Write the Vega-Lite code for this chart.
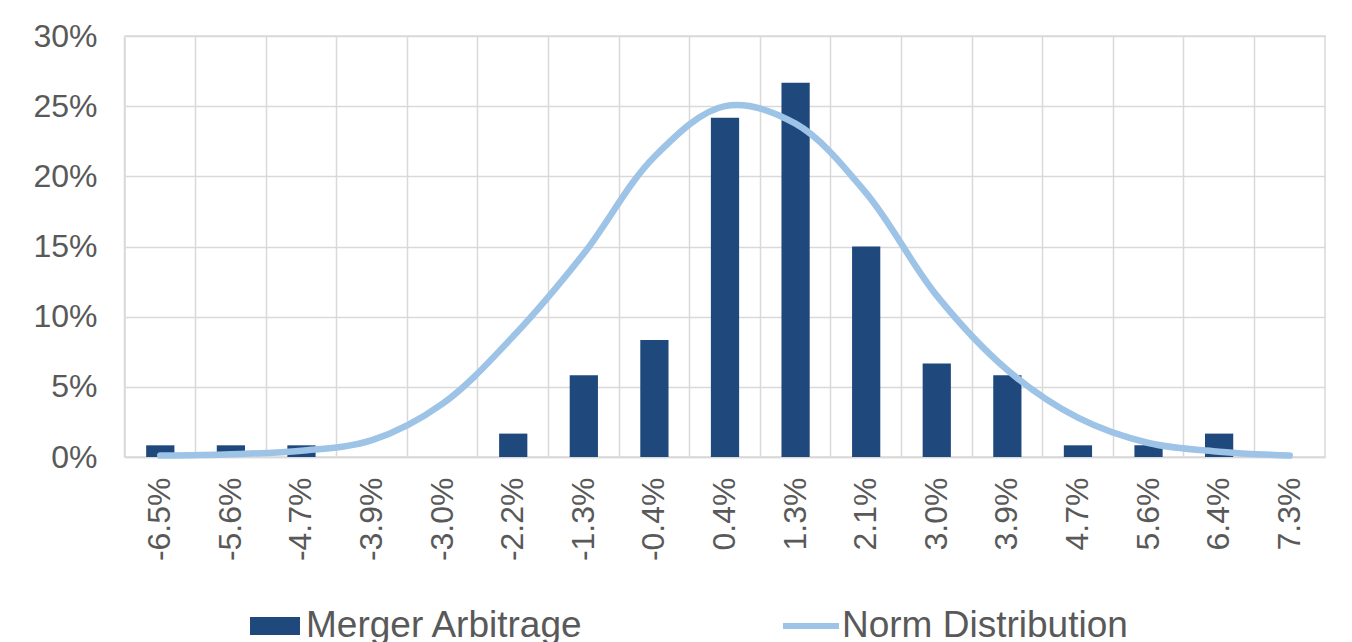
{
  "$schema": "https://vega.github.io/schema/vega-lite/v6.json",
  "autosize": {"type": "none"},
  "padding": {"left": 125, "top": 36, "right": 27, "bottom": 185},
  "width": 1200,
  "height": 421,
  "background": "white",
  "config": {
    "font": "Liberation Sans",
    "view": {"stroke": "#d9d9d9", "strokeWidth": 1.5},
    "axis": {"labelFont": "Liberation Sans", "labelColor": "#595959", "labelFontSize": 32, "gridColor": "#d9d9d9", "gridWidth": 1.5, "ticks": false, "title": null}
  },
  "data": {
    "values": [
      {"bin": "-6.5%", "ma": 0.00833, "norm": 0.0010},
      {"bin": "-5.6%", "ma": 0.00833, "norm": 0.0020},
      {"bin": "-4.7%", "ma": 0.00833, "norm": 0.0045},
      {"bin": "-3.9%", "ma": 0.0, "norm": 0.0120},
      {"bin": "-3.0%", "ma": 0.0, "norm": 0.0380},
      {"bin": "-2.2%", "ma": 0.01667, "norm": 0.0860},
      {"bin": "-1.3%", "ma": 0.05833, "norm": 0.1450},
      {"bin": "-0.4%", "ma": 0.08333, "norm": 0.2140},
      {"bin": "0.4%", "ma": 0.24167, "norm": 0.2500},
      {"bin": "1.3%", "ma": 0.26667, "norm": 0.2375},
      {"bin": "2.1%", "ma": 0.15, "norm": 0.1880},
      {"bin": "3.0%", "ma": 0.06667, "norm": 0.1150},
      {"bin": "3.9%", "ma": 0.05833, "norm": 0.0620},
      {"bin": "4.7%", "ma": 0.00833, "norm": 0.0280},
      {"bin": "5.6%", "ma": 0.00833, "norm": 0.0100},
      {"bin": "6.4%", "ma": 0.01667, "norm": 0.0038},
      {"bin": "7.3%", "ma": 0.0, "norm": 0.0010}
    ]
  },
  "encoding": {
    "x": {
      "field": "bin", "type": "nominal", "sort": null,
      "scale": {"paddingInner": 0.6, "paddingOuter": 0.3},
      "axis": {"labelAngle": -90, "labelPadding": 20, "grid": true, "bandPosition": -0.75, "domainColor": "#d9d9d9", "domainWidth": 1.5}
    }
  },
  "layer": [
    {
      "mark": {"type": "bar"},
      "encoding": {
        "y": {"field": "ma", "type": "quantitative", "scale": {"domain": [0, 0.3]},
              "axis": {"format": ".0%", "values": [0, 0.05, 0.1, 0.15, 0.2, 0.25, 0.3], "domain": false, "labelPadding": 28}},
        "color": {"datum": "Merger Arbitrage", "type": "nominal",
          "scale": {"domain": ["Merger Arbitrage", "Norm Distribution"], "range": ["#1f497d", "#9dc3e6"]},
          "legend": {
            "orient": "none", "legendX": 125, "legendY": 565, "direction": "horizontal", "title": null,
            "labelFont": "Liberation Sans", "labelFontSize": 37, "labelColor": "#595959", "labelOffset": 6, "labelLimit": 600,
            "symbolSize": 2500, "columnPadding": 198,
            "encode": {
              "symbols": {"update": {
                "shape": {"signal": "datum.value === 'Merger Arbitrage' ? 'M-1,-0.36H1V0.36H-1Z' : 'M-1.12,-0.12H1.12V0.12H-1.12Z'"},
                "fill": {"signal": "datum.value === 'Merger Arbitrage' ? '#1f497d' : '#9dc3e6'"},
                "stroke": {"value": "transparent"},
                "strokeWidth": {"value": 0},
                "opacity": {"value": 1}
              }}
            }
          }
        }
      }
    },
    {
      "mark": {"type": "line", "interpolate": "catmull-rom", "strokeWidth": 6.5, "strokeCap": "round"},
      "encoding": {
        "y": {"field": "norm", "type": "quantitative"},
        "color": {"datum": "Norm Distribution", "type": "nominal"}
      }
    }
  ]
}
